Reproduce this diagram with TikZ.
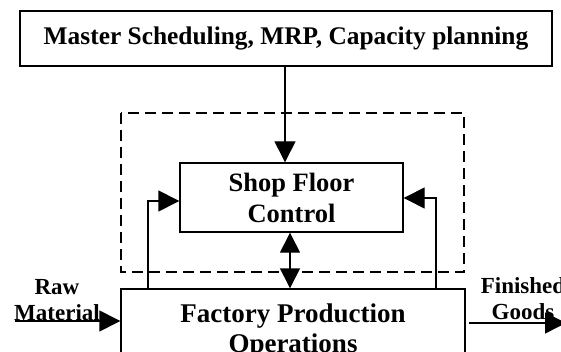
\documentclass[tikz,border=0pt]{standalone}
\usepackage{fontspec}
\setmainfont{Liberation Serif}
\usetikzlibrary{arrows.meta,calc}
\tikzset{
  box/.style={draw, line width=1.4pt, inner sep=0pt, align=center},
  lbl/.style={inner sep=0pt, align=center, font=\fontsize{23}{26}\selectfont\bfseries},
  arr/.style={line width=1.4pt, -{Triangle[length=21pt,width=21pt]}},
  darr/.style={line width=1.4pt, {Triangle[length=20pt,width=20pt]}-{Triangle[length=20pt,width=20pt]}},
  dbox/.style={draw, line width=1.4pt, dash pattern=on 11pt off 6pt}
}
\begin{document}
\begin{tikzpicture}[x=1pt,y=-1pt]
\useasboundingbox (0,0) rectangle (561,352);
\clip (0,0) rectangle (561,352);
\draw[dbox] (121,113) rectangle (464,272);
\node[box, minimum width=532pt, minimum height=55pt, font=\fontsize{25.4}{30}\selectfont\bfseries] (top) at (286,38.5) {Master Scheduling, MRP, Capacity planning};
\node[box, minimum width=223pt, minimum height=69pt, font=\fontsize{26.5}{31}\selectfont\bfseries] (sfc) at (291.5,197.5) {Shop Floor\\Control};
\node[box, minimum width=344pt, minimum height=84pt, font=\fontsize{27}{30}\selectfont\bfseries] (fpo) at (293,331) {Factory Production\\Operations};
\coordinate (vx) at (285,0);
\coordinate (dx) at (290,0);
\coordinate (lx) at (148,201);
\coordinate (rx) at (436,198);
\draw[arr] (vx |- top.south) -- (vx |- sfc.north);
\draw[darr] (dx |- sfc.south) -- (dx |- fpo.north);
\draw[arr] (lx |- fpo.north) |- (sfc.west |- lx);
\draw[arr] (rx |- fpo.north) |- (sfc.east |- rx);
\node[lbl] (raw) at (57,300) {Raw\\Material};
\node[lbl] (fin) at (523,299) {Finished\\Goods};
\coordinate (rawstart) at (15,321);
\coordinate (finend) at (566,323);
\draw[arr] (rawstart) -- (rawstart -| fpo.west);
\draw[arr] (fpo.east |- finend) ++(3,0) -- (finend);
\end{tikzpicture}
\end{document}
